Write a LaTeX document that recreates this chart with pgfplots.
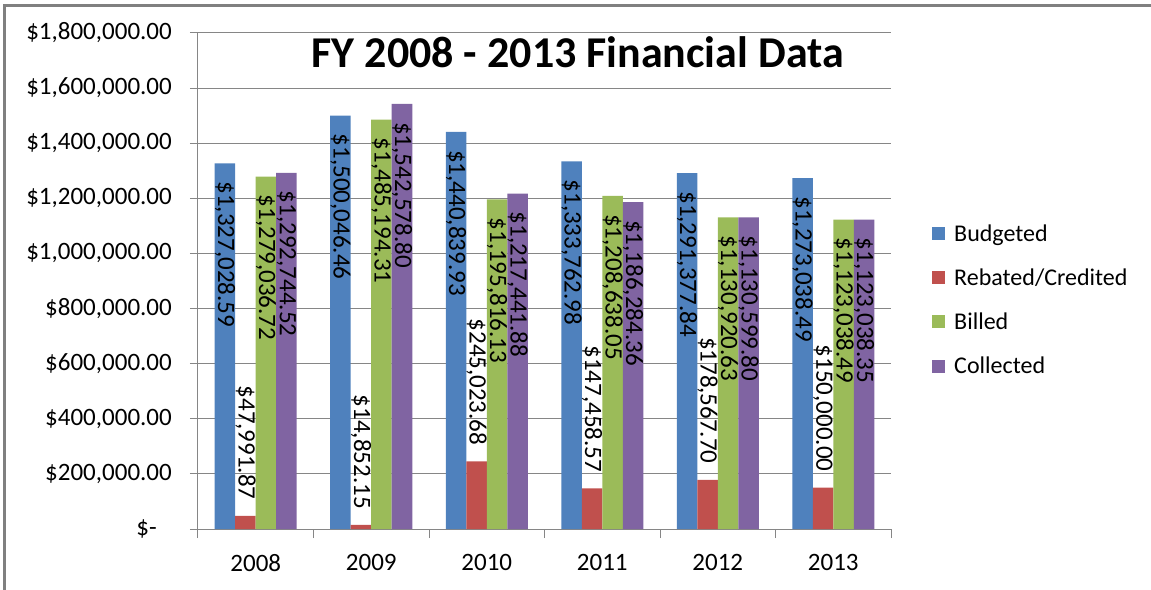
\documentclass[border=0pt]{standalone}
\usepackage{pgfplots}
\pgfplotsset{compat=1.18}
\usepackage{fontspec}
\setmainfont{Carlito}
\definecolor{cBud}{HTML}{4F81BD}
\definecolor{cReb}{HTML}{C0504D}
\definecolor{cBil}{HTML}{9BBB59}
\definecolor{cCol}{HTML}{8064A2}
\definecolor{cGrid}{HTML}{868686}
\definecolor{cFrame}{HTML}{808080}
\pgfplotsset{
  sq/.style={legend image code/.code={\fill[##1,draw=none] (0pt,-6.5pt) rectangle (13pt,6.5pt); \path (20pt,0pt);}},
  inlab/.style={nodes near coords, point meta=explicit symbolic,
    every node near coord/.append style={font=\fontsize{25}{30}\selectfont, text=black, inner sep=0pt, yshift=-18pt, rotate=-90, anchor=west}},
  outlab/.style={nodes near coords, point meta=explicit symbolic,
    every node near coord/.append style={font=\fontsize{25}{30}\selectfont, text=black, inner sep=0pt, yshift=16pt, rotate=-90, anchor=east}},
}
\begin{document}
\begin{tikzpicture}
\fill[cFrame] (-195pt,-62pt) rectangle (-192pt,525pt);
\fill[cFrame] (-195pt,522pt) rectangle (956pt,525pt);
\begin{axis}[
  scale only axis, width=693pt, height=496pt,
  xmin=-0.5, xmax=5.5, ymin=0, ymax=1800000,
  ybar=0pt, bar width=20.5pt,
  axis x line*=bottom, axis y line*=left,
  axis line style={color=cGrid, line width=1pt},
  ymajorgrids, grid style={color=cGrid, line width=1pt},
  tick align=outside, major tick length=8pt, minor tick length=9pt,
  tick style={color=cGrid, line width=1pt},
  xtick={0,1,2,3,4,5},
  xticklabels={2008,2009,2010,2011,2012,2013},
  minor xtick={-0.5,0.5,1.5,2.5,3.5,4.5,5.5},
  major x tick style={draw=none},
  ytick={0,200000,400000,600000,800000,1000000,1200000,1400000,1600000,1800000},
  yticklabels={{\$-\hspace*{15pt}},{\$200,000.00},{\$400,000.00},{\$600,000.00},{\$800,000.00},{\$1,000,000.00},{\$1,200,000.00},{\$1,400,000.00},{\$1,600,000.00},{\$1,800,000.00}},
  scaled y ticks=false,
  yticklabel style={font=\fontsize{25}{30}\selectfont, inner sep=0pt, text=black, xshift=-18pt},
  xticklabel style={font=\fontsize{25}{30}\selectfont, inner sep=0pt, text=black, yshift=-17pt},
  title={FY 2008 - 2013 Financial Data},
  title style={font=\fontsize{44}{50}\selectfont\bfseries, at={(0.548,0.919)}, anchor=base, inner sep=0pt},
  legend style={at={(1.0592,0.462)}, anchor=west, draw=none, fill=none, inner sep=0pt,
    font=\fontsize{24}{29}\selectfont, row sep=22pt, cells={anchor=west}},
]
\addplot[fill=cBud, draw=none, sq, inlab] coordinates {
 (0,1327028.59) [\$1,327,028.59]
 (1,1500046.46) [\$1,500,046.46]
 (2,1440839.93) [\$1,440,839.93]
 (3,1333762.98) [\$1,333,762.98]
 (4,1291377.84) [\$1,291,377.84]
 (5,1273038.49) [\$1,273,038.49]
};
\addlegendentry{Budgeted}
\addplot[fill=cReb, draw=none, sq, outlab] coordinates {
 (0,47991.87) [\$47,991.87]
 (1,14852.15) [\$14,852.15]
 (2,245023.68) [\$245,023.68]
 (3,147458.57) [\$147,458.57]
 (4,178567.70) [\$178,567.70]
 (5,150000.00) [\$150,000.00]
};
\addlegendentry{Rebated/Credited}
\addplot[fill=cBil, draw=none, sq, inlab] coordinates {
 (0,1279036.72) [\$1,279,036.72]
 (1,1485194.31) [\$1,485,194.31]
 (2,1195816.13) [\$1,195,816.13]
 (3,1208638.05) [\$1,208,638.05]
 (4,1130920.63) [\$1,130,920.63]
 (5,1123038.49) [\$1,123,038.49]
};
\addlegendentry{Billed}
\addplot[fill=cCol, draw=none, sq, inlab] coordinates {
 (0,1292744.52) [\$1,292,744.52]
 (1,1542578.80) [\$1,542,578.80]
 (2,1217441.88) [\$1,217,441.88]
 (3,1186284.36) [\$1,186,284.36]
 (4,1130599.80) [\$1,130,599.80]
 (5,1123038.35) [\$1,123,038.35]
};
\addlegendentry{Collected}
\end{axis}
\pgfresetboundingbox
\path[use as bounding box] (-198pt,-60pt) rectangle (953pt,529pt);
\end{tikzpicture}
\end{document}
